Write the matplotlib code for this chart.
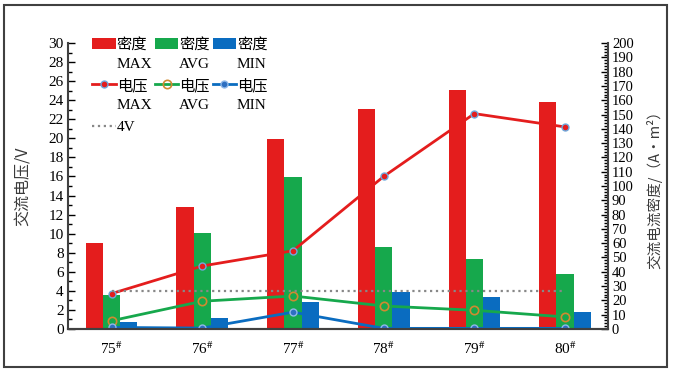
import numpy as np
import matplotlib
matplotlib.use('Agg')
from matplotlib import pyplot as plt
from matplotlib.ticker import MultipleLocator
from matplotlib.patches import Rectangle

plt.rcParams['font.family'] = ['Liberation Serif', 'Noto Sans CJK SC', 'DejaVu Sans']
plt.rcParams['mathtext.fontset'] = 'stix'

samples = ['75', '76', '77', '78', '79', '80']
# current density, A/m2 (right axis)
dens_max = [60, 85, 133, 154, 167, 159]
dens_avg = [24, 67, 106, 57.5, 49, 38.5]
dens_min = [5, 7.5, 19, 25.5, 22, 11.5]
# AC voltage, V (left axis)
volt_max = [3.7, 6.6, 8.2, 16.0, 22.6, 21.2]
volt_avg = [0.85, 2.9, 3.45, 2.4, 1.95, 1.25]
volt_min = [0.15, 0.08, 1.75, 0.05, 0.05, 0.05]
limit_v = 4

c_red = '#e41d1d'
c_green = '#16a84c'
c_blue = '#0a6cc0'

x = np.arange(len(samples))
w = 0.19

fig = plt.figure(figsize=(6.73, 3.72), dpi=100)
ax = fig.add_axes([0.101, 0.116, 0.802, 0.768])
ax2 = ax.twinx()
ax.set_zorder(ax2.get_zorder() + 1)
ax.patch.set_visible(False)

b1 = ax2.bar(x - w, dens_max, w, color=c_red)
b2 = ax2.bar(x, dens_avg, w, color=c_green)
b3 = ax2.bar(x + w, dens_min, w, color=c_blue)

l1, = ax.plot(x, volt_max, '-o', color=c_red, lw=2, ms=5, mfc=c_red, mec='#6fa8dc', mew=1)
l2, = ax.plot(x, volt_avg, '-o', color=c_green, lw=2, ms=6, mfc='none', mec='#d08a30', mew=1.2)
l3, = ax.plot(x, volt_min, '-o', color=c_blue, lw=2, ms=5, mfc='#2e6fc0', mec='#8fb8e8', mew=1)
l4, = ax.plot([x[0], x[-1]], [limit_v, limit_v], ':', color='#888888', lw=1.6)

ax.set_xlim(-0.48, len(samples) - 0.53)
ax.set_ylim(0, 30)
ax2.set_ylim(0, 200)
ax.yaxis.set_major_locator(MultipleLocator(2))
ax.yaxis.set_minor_locator(MultipleLocator(1))
ax2.yaxis.set_major_locator(MultipleLocator(10))
ax2.yaxis.set_minor_locator(MultipleLocator(2))

ax.set_xticks(x)
ax.set_xticklabels([s + r'$^{\#}$' for s in samples], fontsize=11)
ax.tick_params(axis='x', length=0, pad=8)
ax.tick_params(axis='y', which='major', direction='in', length=5, width=1, labelsize=11, pad=3)
ax.tick_params(axis='y', which='minor', direction='in', length=3, width=1)
ax2.tick_params(axis='y', which='major', direction='in', length=5, width=1, labelsize=10.5, pad=3)
ax2.tick_params(axis='y', which='minor', direction='in', length=3, width=1)

for a in (ax, ax2):
    a.spines['top'].set_visible(False)
    for s in ('left', 'right', 'bottom'):
        a.spines[s].set_color('#404040')
        a.spines[s].set_linewidth(1.5)
ax.spines['right'].set_visible(False)
ax2.spines['left'].set_visible(False)

ax.set_ylabel('交流电压/V', family='Noto Sans CJK SC', fontsize=11.5, color='#3a3a3a', labelpad=12)
ax2.set_ylabel('交流电流密度/（A·m²）', family=['Noto Sans CJK SC', 'DejaVu Sans'],
               fontsize=10.5, color='#3a3a3a', labelpad=9)

handles = [b1, l1, l4, b2, l2, b3, l3]
labels = ['密度\nMAX', '电压\nMAX', '4V', '密度\nAVG', '电压\nAVG', '密度\nMIN', '电压\nMIN']
leg = ax.legend(handles, labels, ncol=3, loc='upper left', bbox_to_anchor=(0.126, 0.918),
                bbox_transform=fig.transFigure, frameon=False, fontsize=11,
                handlelength=1.55, handletextpad=0.05, columnspacing=0.15, labelspacing=0.55,
                borderpad=0)
for t in leg.get_texts():
    t.set_linespacing(1.55)
# put each handle level with the first line of its label
for col in leg._legend_handle_box.get_children():
    for item in col.get_children():
        item.align = 'top'

fig.add_artist(Rectangle((0.006, 0.013), 0.985, 0.973, transform=fig.transFigure,
                         fill=False, edgecolor='#404040', lw=1.5))

plt.savefig('out.png', dpi=100)
